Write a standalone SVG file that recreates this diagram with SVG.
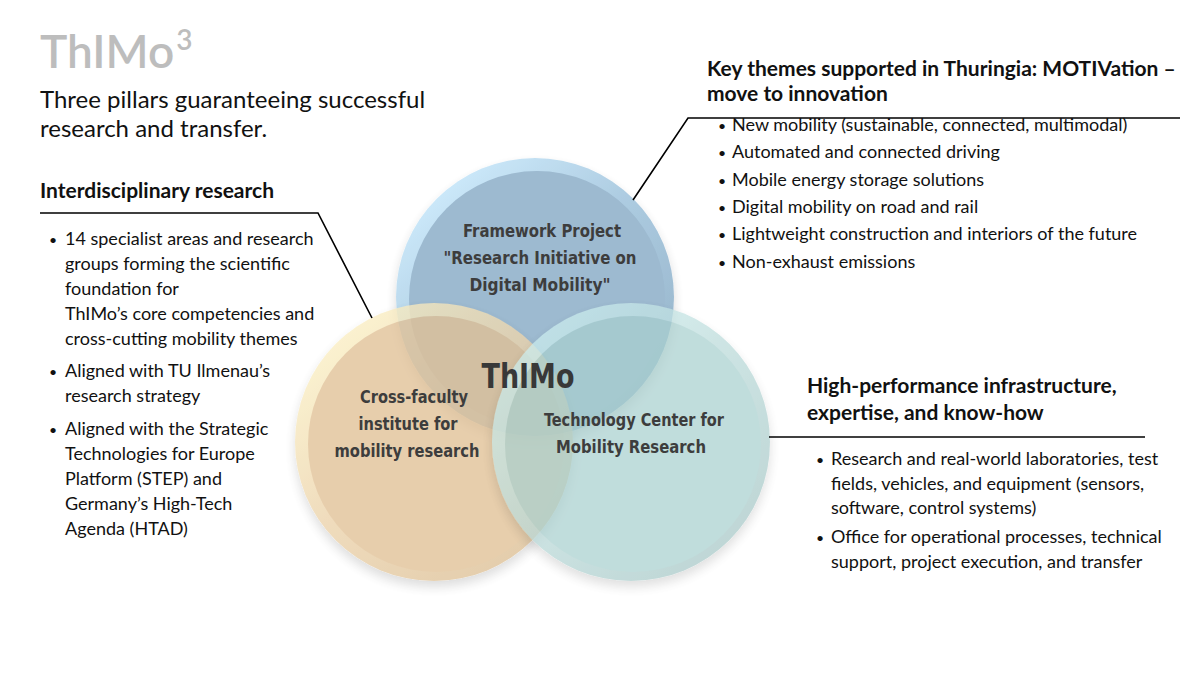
<svg xmlns="http://www.w3.org/2000/svg" width="1200" height="675" viewBox="0 0 1200 675">
<style>
.t{font-family:Lato,"Open Sans","Liberation Sans",sans-serif;fill:#111;}
.b{font-weight:bold;font-size:21px;}
.body{font-size:18px;}
.lbl{font-family:"DejaVu Sans Condensed","DejaVu Sans",sans-serif;font-weight:bold;font-size:17px;fill:#3d3d3d;text-anchor:middle;}
.big{font-size:34px;fill:#383838;}
.ln{fill:none;stroke:#000;stroke-width:1.6;}
</style>
<defs>
<linearGradient id="gB" x1="0.15" y1="0.1" x2="0.85" y2="0.9">
<stop offset="0" stop-color="#c4e6fa"/><stop offset="0.45" stop-color="#9fc3dc"/><stop offset="1" stop-color="#85a8c2"/>
</linearGradient>
<linearGradient id="gO" x1="0.15" y1="0.1" x2="0.85" y2="0.9">
<stop offset="0" stop-color="#fbf0c4"/><stop offset="0.45" stop-color="#ecd3ab"/><stop offset="1" stop-color="#dcbf95"/>
</linearGradient>
<linearGradient id="gT" x1="0.15" y1="0.1" x2="0.85" y2="0.9">
<stop offset="0" stop-color="#cdeff0"/><stop offset="0.45" stop-color="#bbdbda"/><stop offset="1" stop-color="#a6c7c6"/>
</linearGradient>
<filter id="sh" x="-20%" y="-20%" width="140%" height="150%">
<feGaussianBlur in="SourceAlpha" stdDeviation="6"/>
<feOffset dy="6"/>
<feComponentTransfer><feFuncA type="linear" slope="0.18"/></feComponentTransfer>
<feMerge><feMergeNode/><feMergeNode in="SourceGraphic"/></feMerge>
</filter>
</defs>
<rect width="1200" height="675" fill="#fff"/>

<g id="title">
<text class="t" x="40" y="68" font-size="46" style="fill:#bdbdbd;font-weight:600">ThIMo<tspan font-size="28" dx="2" dy="-18">3</tspan></text>
<text class="t" x="40" y="108" font-size="24">Three pillars guaranteeing successful</text>
<text class="t" x="40" y="137" font-size="24">research and transfer.</text>
</g>

<g id="circles">
<g id="blue" opacity="0.85" filter="url(#sh)">
<circle cx="535" cy="297" r="139" fill="url(#gB)"/>
<circle cx="537" cy="299" r="128" fill="#8caec8"/>
</g>
<g id="orange" opacity="0.78" filter="url(#sh)">
<circle cx="434" cy="442" r="139" fill="url(#gO)"/>
<circle cx="436" cy="444" r="128" fill="#e1c196"/>
</g>
<g id="teal" opacity="0.72" filter="url(#sh)">
<circle cx="631" cy="442" r="139" fill="url(#gT)"/>
<circle cx="633" cy="444" r="128" fill="#a9d0cf"/>
</g>
</g>

<g id="node-framework">
<text class="lbl" x="542" y="237" textLength="158" lengthAdjust="spacingAndGlyphs">Framework Project</text>
<text class="lbl" x="540" y="264" textLength="193" lengthAdjust="spacingAndGlyphs">"Research Initiative on</text>
<text class="lbl" x="540" y="291" textLength="141" lengthAdjust="spacingAndGlyphs">Digital Mobility"</text>
</g>
<g id="node-thimo">
<text class="lbl big" x="528" y="388" textLength="93" lengthAdjust="spacingAndGlyphs">ThIMo</text>
</g>
<g id="node-crossfaculty">
<text class="lbl" x="414" y="403" textLength="108" lengthAdjust="spacingAndGlyphs">Cross-faculty</text>
<text class="lbl" x="408" y="430" textLength="99" lengthAdjust="spacingAndGlyphs">institute for</text>
<text class="lbl" x="407" y="457" textLength="145" lengthAdjust="spacingAndGlyphs">mobility research</text>
</g>
<g id="node-techcenter">
<text class="lbl" x="634" y="426" textLength="180" lengthAdjust="spacingAndGlyphs">Technology Center for</text>
<text class="lbl" x="631" y="453" textLength="150" lengthAdjust="spacingAndGlyphs">Mobility Research</text>
</g>

<g id="connectors">
<polyline class="ln" points="40,213 318,213 372,318"/>
<polyline class="ln" points="633,200 688,118 1180,118"/>
<polyline class="ln" points="769,437 1145,437"/>
</g>

<g id="left-text">
<text class="t b" x="40" y="198">Interdisciplinary research</text>
<g class="t body">
<text x="49" y="245" font-size="14">•</text><text x="65" y="245">14 specialist areas and research</text>
<text x="65" y="270">groups forming the scientific</text>
<text x="65" y="295">foundation for</text>
<text x="65" y="320">ThIMo’s core competencies and</text>
<text x="65" y="345">cross-cutting mobility themes</text>
<text x="49" y="377" font-size="14">•</text><text x="65" y="377">Aligned with TU Ilmenau’s</text>
<text x="65" y="402">research strategy</text>
<text x="49" y="435" font-size="14">•</text><text x="65" y="435">Aligned with the Strategic</text>
<text x="65" y="460">Technologies for Europe</text>
<text x="65" y="485">Platform (STEP) and</text>
<text x="65" y="510">Germany’s High-Tech</text>
<text x="65" y="535">Agenda (HTAD)</text>
</g>
</g>

<g id="right-top-text">
<text class="t b" x="707" y="76">Key themes supported in Thuringia: MOTIVation –</text>
<text class="t b" x="707" y="101">move to innovation</text>
<g class="t body">
<text x="718" y="131" font-size="14">•</text><text x="732" y="131">New mobility (sustainable, connected, multimodal)</text>
<text x="718" y="158" font-size="14">•</text><text x="732" y="158">Automated and connected driving</text>
<text x="718" y="186" font-size="14">•</text><text x="732" y="186">Mobile energy storage solutions</text>
<text x="718" y="213" font-size="14">•</text><text x="732" y="213">Digital mobility on road and rail</text>
<text x="718" y="240" font-size="14">•</text><text x="732" y="240">Lightweight construction and interiors of the future</text>
<text x="718" y="268" font-size="14">•</text><text x="732" y="268">Non-exhaust emissions</text>
</g>
</g>

<g id="right-bottom-text">
<text class="t b" x="807" y="393">High-performance infrastructure,</text>
<text class="t b" x="807" y="420">expertise, and know-how</text>
<g class="t body">
<text x="816" y="465" font-size="14">•</text><text x="831" y="465">Research and real-world laboratories, test</text>
<text x="831" y="490">fields, vehicles, and equipment (sensors,</text>
<text x="831" y="514">software, control systems)</text>
<text x="816" y="543" font-size="14">•</text><text x="831" y="543">Office for operational processes, technical</text>
<text x="831" y="568">support, project execution, and transfer</text>
</g>
</g>
</svg>
